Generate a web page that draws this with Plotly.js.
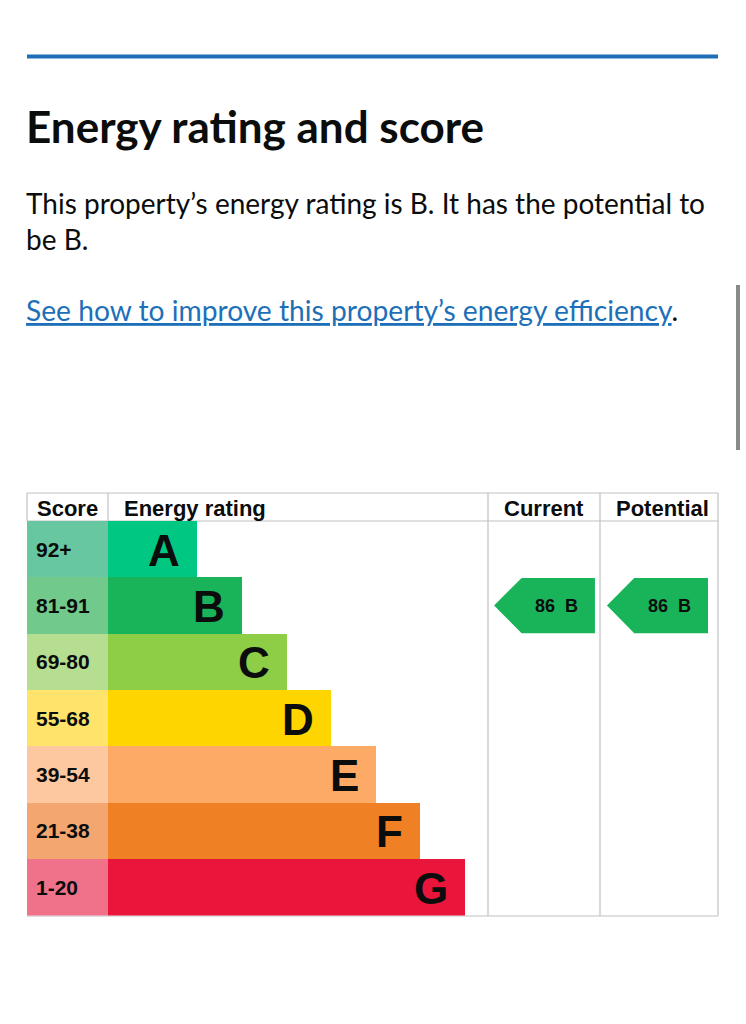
<!DOCTYPE html>
<html><head><meta charset="utf-8">
<script src="https://cdn.plot.ly/plotly-3.0.1.min.js"></script>
<style>html,body{margin:0;padding:0;background:#fff;} #chart{width:746px;height:1024px;}</style>
</head><body><div id="chart"></div>
<script>
// ---- data ----
const ratings = ['A','B','C','D','E','F','G'];
const scoreRanges = ['92+','81-91','69-80','55-68','39-54','21-38','1-20'];
const barLength = [2,3,4,5,6,7,8];
const barColors = ['#00c781','#19b459','#8dce46','#ffd500','#fcaa65','#ef8023','#e9153b'];
const scoreColors = ['#66c7a1','#72c98c','#b5de91','#ffe36a','#fdc8a0','#f3a670','#f0728a'];
const currentScore = 86, currentRating = 'B';
const potentialScore = 86, potentialRating = 'B';
const titleText = 'Energy rating and score';
const bodyLine1 = 'This property\u2019s energy rating is B. It has the potential to';
const bodyLine2 = 'be B.';
const linkText = 'See how to improve this property\u2019s energy efficiency';

// ---- layout helpers ----
const W = 746, H = 1024;
const px = v => v / W, py = v => 1 - v / H;
const rows = ratings.map((_, i) => i);
const unit = 44.625;
const TABLE_FONT = 'Liberation Sans, Arial, sans-serif';
const PAGE_FONT = 'Lato, Noto Sans, sans-serif';

function arrow(rating, xaxis, tipX, bodyX, rightX) {
  const r = ratings.indexOf(rating);
  const h = 0.49;
  return {
    type: 'scatter', mode: 'lines', xaxis: xaxis, yaxis: 'y',
    x: [tipX, bodyX, rightX, rightX, bodyX, tipX],
    y: [r, r - h, r - h, r + h, r + h, r],
    fill: 'toself', fillcolor: barColors[r], line: {width: 0, color: barColors[r]},
    hoverinfo: 'skip', showlegend: false
  };
}

const traces = [
  {type: 'bar', orientation: 'h', xaxis: 'x', yaxis: 'y', y: rows, x: rows.map(() => 1),
   width: 1, marker: {color: scoreColors, line: {width: 0}}, hoverinfo: 'skip', showlegend: false},
  {type: 'bar', orientation: 'h', xaxis: 'x2', yaxis: 'y', y: rows, x: barLength,
   width: 1, marker: {color: barColors, line: {width: 0}}, hoverinfo: 'skip', showlegend: false},
  arrow(currentRating, 'x3', 0.054, 0.30, 0.955),
  arrow(potentialRating, 'x4', 0.059, 0.29, 0.915)
];

const ann = [];
ann.push({xref: 'paper', yref: 'paper', x: px(27), y: py(126), xanchor: 'left', yanchor: 'middle', xshift: -3,
  text: '<b>' + titleText + '</b>', showarrow: false, font: {family: PAGE_FONT, size: 44, color: '#0b0c0c'}});
ann.push({xref: 'paper', yref: 'paper', x: px(27), y: py(203), xanchor: 'left', yanchor: 'middle', xshift: -3,
  text: bodyLine1, showarrow: false, font: {family: PAGE_FONT, size: 28, color: '#0b0c0c'}});
ann.push({xref: 'paper', yref: 'paper', x: px(27), y: py(239), xanchor: 'left', yanchor: 'middle', xshift: -3,
  text: bodyLine2, showarrow: false, font: {family: PAGE_FONT, size: 28, color: '#0b0c0c'}});
ann.push({xref: 'paper', yref: 'paper', x: px(27), y: py(310), xanchor: 'left', yanchor: 'middle', xshift: -3,
  text: '<span style="text-decoration:underline">' + linkText + '</span><span style="color:#0b0c0c">.</span>',
  showarrow: false, font: {family: PAGE_FONT, size: 28.2, color: '#1d70b8'}});

// headers
const hdrY = py(508);
[['Score', 67, 'center'], ['Energy rating', 122, 'left'], ['Current', 544, 'center'], ['Potential', 662, 'center']]
  .forEach(([t, x, a]) => ann.push({xref: 'paper', yref: 'paper', x: px(x), y: hdrY, xanchor: a, yanchor: 'middle',
    text: '<b>' + t + '</b>', showarrow: false, font: {family: TABLE_FONT, size: 22, color: '#0b0c0c'}}));

rows.forEach(i => {
  ann.push({xref: 'x', yref: 'y', x: 0, y: i, xanchor: 'left', yanchor: 'middle', xshift: 7,
    text: '<b>' + scoreRanges[i] + '</b>', showarrow: false, font: {family: TABLE_FONT, size: 21, color: '#0b0c0c'}});
  ann.push({xref: 'x2', yref: 'y', x: barLength[i], y: i, xanchor: 'right', yanchor: 'middle', xshift: -15, yshift: -1,
    text: '<b>' + ratings[i] + '</b>', showarrow: false, font: {family: TABLE_FONT, size: 44, color: '#0b0c0c'}});
});

ann.push({xref: 'x3', yref: 'y', x: 0.615, y: ratings.indexOf(currentRating), xanchor: 'center', yanchor: 'middle',
  text: '<b>' + currentScore + '  ' + currentRating + '</b>', showarrow: false,
  font: {family: TABLE_FONT, size: 18, color: '#0b0c0c'}});
ann.push({xref: 'x4', yref: 'y', x: 0.59, y: ratings.indexOf(potentialRating), xanchor: 'center', yanchor: 'middle',
  text: '<b>' + potentialScore + '  ' + potentialRating + '</b>', showarrow: false,
  font: {family: TABLE_FONT, size: 18, color: '#0b0c0c'}});

const grid = '#bfc1c3';
function ln(x0, y0, x1, y1, color, w, layer) {
  return {type: 'line', xref: 'paper', yref: 'paper', x0: px(x0), y0: py(y0), x1: px(x1), y1: py(y1),
    line: {color: color, width: w}, layer: layer || 'above'};
}
const shapes = [
  ln(27, 56.5, 718, 56.5, '#1d70b8', 4),
  ln(27, 493, 718, 493, grid, 1.2),
  ln(27, 521, 718, 521, grid, 1.2, 'below'),
  ln(27, 916, 718, 916, grid, 1.2, 'below'),
  ln(27, 493, 27, 521, grid, 1.2),
  ln(108, 493, 108, 521, grid, 1.2),
  ln(488, 493, 488, 916, grid, 1.2),
  ln(600, 493, 600, 916, grid, 1.2),
  ln(718, 493, 718, 916, grid, 1.2),
  ln(738, 285, 738, 450, '#8a8a8a', 4)
];

const hidden = {showgrid: false, zeroline: false, showticklabels: false, ticks: '', showline: false, fixedrange: true};
const layout = {
  width: W, height: H, margin: {l: 0, r: 0, t: 0, b: 0},
  paper_bgcolor: '#ffffff', plot_bgcolor: 'rgba(0,0,0,0)',
  barmode: 'overlay', bargap: 0, showlegend: false,
  xaxis: Object.assign({domain: [px(27), px(108)], range: [0, 1], anchor: 'y'}, hidden),
  xaxis2: Object.assign({domain: [px(108), px(488)], range: [0, 380 / unit], anchor: 'y'}, hidden),
  xaxis3: Object.assign({domain: [px(488), px(600)], range: [0, 1], anchor: 'y'}, hidden),
  xaxis4: Object.assign({domain: [px(600), px(718)], range: [0, 1], anchor: 'y'}, hidden),
  yaxis: Object.assign({domain: [py(915.5), py(521)], range: [6.5, -0.5]}, hidden),
  annotations: ann, shapes: shapes
};
Plotly.newPlot('chart', traces, layout, {staticPlot: true, displayModeBar: false});
</script></body></html>
